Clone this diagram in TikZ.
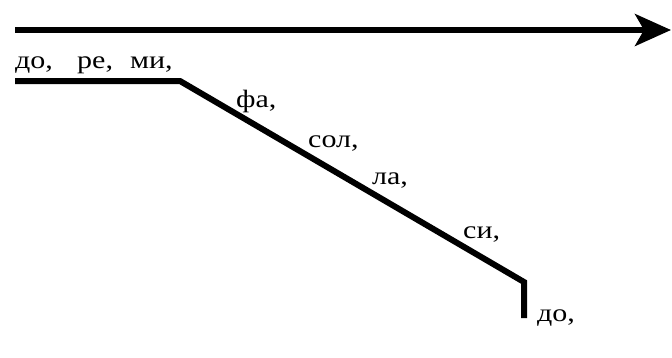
\documentclass[tikz,border=0pt]{standalone}
\usepackage{fontspec}
\setmainfont{Liberation Serif}[FakeStretch=1.2]
\usetikzlibrary{arrows.meta}
\begin{document}
\begin{tikzpicture}[x=1pt,y=-1pt,
  lbl/.style={anchor=base west, inner sep=0pt, font=\fontsize{25}{27}\selectfont},
  scaleline/.style={line width=6pt, line join=miter},
  axisline/.style={line width=5.5pt, -{Stealth[length=36pt,width=32pt,inset=9pt]}}]
\useasboundingbox (0,0) rectangle (672,357);
\coordinate (a0) at (15,30);
\coordinate (a1) at (671,30);
\draw[axisline] (a0) -- (a1);
\coordinate (p0) at (15,81);
\coordinate (p1) at (180,81);
\coordinate (p2) at (524,282);
\coordinate (p3) at (524,318);
\draw[scaleline] (p0) -- (p1) -- (p2) -- (p3);
\node[lbl] (n1) at (15,68) {до,};
\node[lbl] (n2) at (77,68) {ре,};
\node[lbl] (n3) at (130,68) {ми,};
\node[lbl] (n4) at (236,107) {фа,};
\node[lbl] (n5) at (308,147) {сол,};
\node[lbl] (n6) at (372,184) {ла,};
\node[lbl] (n7) at (463,238) {си,};
\node[lbl] (n8) at (537,321) {до,};
\end{tikzpicture}
\end{document}
